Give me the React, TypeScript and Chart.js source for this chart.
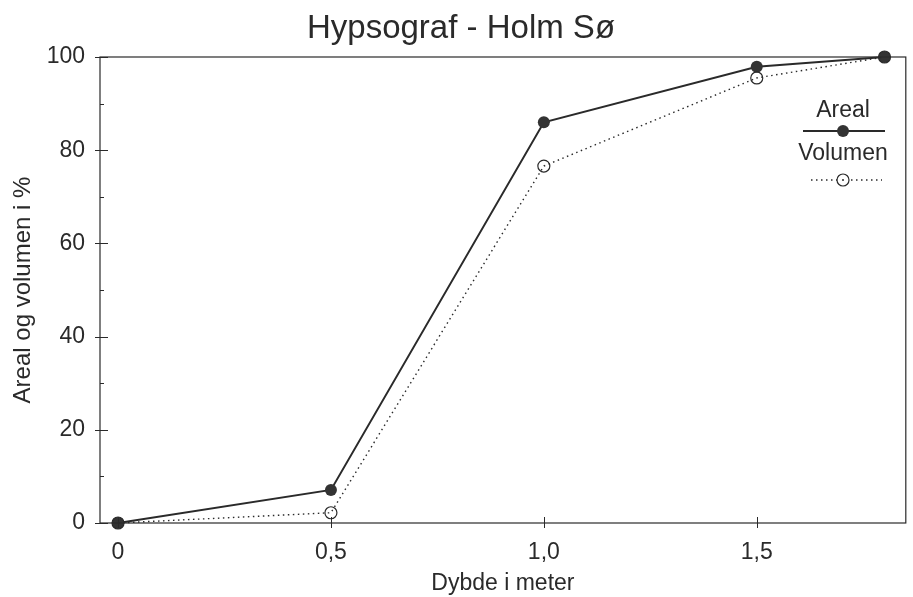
import React, { useEffect, useRef } from "react";
import { Chart, registerables } from "chart.js";

Chart.register(...registerables);

const depth = [0, 0.5, 1.0, 1.5, 1.8];
const areal = [0, 7.1, 86.0, 97.9, 100];
const volumen = [0, 2.2, 76.6, 95.5, 100];
const xTickValues = [0, 0.5, 1.0, 1.5];
const yMajorTicks = [0, 20, 40, 60, 80, 100];
const yMinorTicks = [10, 30, 50, 70, 90];
const titleText = "Hypsograf - Holm Sø";
const xTitle = "Dybde i meter";
const yTitle = "Areal og volumen i %";
const seriesNames = ["Areal", "Volumen"];

const FONT = "'Liberation Sans', Arial, Helvetica, sans-serif";
const INK = "#2a2a2a";

const decorPlugin = {
  id: "decor",
  afterDraw(chart: any) {
    const ctx = chart.ctx;
    const a = chart.chartArea;
    const xs = chart.scales.x;
    const ys = chart.scales.y;
    ctx.save();
    // title
    ctx.fillStyle = INK;
    ctx.font = `33px ${FONT}`;
    ctx.textAlign = "center";
    ctx.textBaseline = "alphabetic";
    ctx.fillText(titleText, 461, 38);
    // box
    ctx.strokeStyle = INK;
    ctx.lineWidth = 1.2;
    ctx.strokeRect(a.left, a.top, a.right - a.left, a.bottom - a.top);
    // ticks
    ctx.lineWidth = 1;
    ctx.beginPath();
    for (const v of yMajorTicks) {
      const p = Math.round(ys.getPixelForValue(v)) + 0.5;
      ctx.moveTo(a.left - 5, p);
      ctx.lineTo(a.left + 8, p);
    }
    for (const v of yMinorTicks) {
      const p = Math.round(ys.getPixelForValue(v)) + 0.5;
      ctx.moveTo(a.left, p);
      ctx.lineTo(a.left + 4, p);
    }
    for (const v of xTickValues) {
      const p = Math.round(xs.getPixelForValue(v)) + 0.5;
      ctx.moveTo(p, a.bottom - 6);
      ctx.lineTo(p, a.bottom + 5);
    }
    ctx.stroke();
    // legend
    const cx = 843;
    ctx.font = `23px ${FONT}`;
    ctx.textAlign = "center";
    ctx.fillText(seriesNames[0], cx, 117);
    ctx.fillText(seriesNames[1], cx, 160);
    ctx.lineWidth = 1.8;
    ctx.beginPath();
    ctx.moveTo(803, 131);
    ctx.lineTo(885, 131);
    ctx.stroke();
    ctx.beginPath();
    ctx.arc(cx, 131, 6, 0, Math.PI * 2);
    ctx.fillStyle = "#333";
    ctx.fill();
    ctx.lineWidth = 1.3;
    ctx.setLineDash([1.5, 3.5]);
    ctx.beginPath();
    ctx.moveTo(811, 180);
    ctx.lineTo(882, 180);
    ctx.stroke();
    ctx.setLineDash([]);
    ctx.lineWidth = 1.2;
    ctx.beginPath();
    ctx.arc(cx, 180, 6, 0, Math.PI * 2);
    ctx.fillStyle = "#fff";
    ctx.fill();
    ctx.stroke();
    ctx.fillStyle = INK;
    ctx.beginPath();
    ctx.arc(cx, 180, 1, 0, Math.PI * 2);
    ctx.fill();
    ctx.restore();
  },
};

export default function App() {
  const ref = useRef<HTMLCanvasElement>(null);
  useEffect(() => {
    if (!ref.current) return;
    const chart = new Chart(ref.current, {
      type: "line",
      data: {
        datasets: [
          {
            label: seriesNames[1],
            data: depth.map((d, i) => ({ x: d, y: volumen[i] })),
            borderColor: INK,
            borderWidth: 1.4,
            borderDash: [1.5, 3.5],
            pointRadius: 6,
            pointBorderWidth: 1.2,
            pointBackgroundColor: "rgba(0,0,0,0)",
            pointBorderColor: INK,
            tension: 0,
            clip: false,
          },
          {
            label: seriesNames[0],
            data: depth.map((d, i) => ({ x: d, y: areal[i] })),
            borderColor: INK,
            borderWidth: 2,
            pointRadius: 6,
            pointBorderWidth: 0,
            pointBackgroundColor: "#333",
            pointBorderColor: "#333",
            tension: 0,
            clip: false,
          },
        ],
      },
      options: {
        animation: false,
        responsive: false,
        layout: { padding: { top: 57, right: 7, left: 0, bottom: 0 } },
        plugins: {
          legend: { display: false },
          title: { display: false },
          tooltip: { enabled: false },
        },
        scales: {
          x: {
            type: "linear",
            min: -0.0423,
            max: 1.85,
            afterFit: (s: any) => {
              s.height = 74;
            },
            afterBuildTicks: (s: any) => {
              s.ticks = xTickValues.map((v) => ({ value: v }));
            },
            grid: { display: false, drawTicks: false },
            border: { display: false },
            ticks: {
              padding: 16,
              color: INK,
              font: { family: FONT, size: 23 },
              callback: (v: any) => (v === 0 ? "0" : Number(v).toFixed(1).replace(".", ",")),
              maxRotation: 0,
            },
            title: {
              display: true,
              text: xTitle,
              color: INK,
              font: { family: FONT, size: 23 },
              padding: { top: 3, bottom: 0 },
            },
          },
          y: {
            type: "linear",
            min: 0,
            max: 100,
            afterFit: (s: any) => {
              s.width = 100;
            },
            afterBuildTicks: (s: any) => {
              s.ticks = yMajorTicks.map((v) => ({ value: v }));
            },
            grid: { display: false, drawTicks: false },
            border: { display: false },
            ticks: {
              padding: 15,
              color: INK,
              font: { family: FONT, size: 23 },
            },
            title: {
              display: true,
              text: yTitle,
              color: INK,
              font: { family: FONT, size: 24 },
              padding: { top: 9, bottom: 0 },
            },
          },
        },
      },
      plugins: [decorPlugin],
    });
    return () => chart.destroy();
  }, []);
  return (
    <div style={{ position: "fixed", left: 0, top: 0, width: 913, height: 597, background: "#fff" }}>
      <canvas ref={ref} width={913} height={597} style={{ display: "block" }} />
    </div>
  );
}
